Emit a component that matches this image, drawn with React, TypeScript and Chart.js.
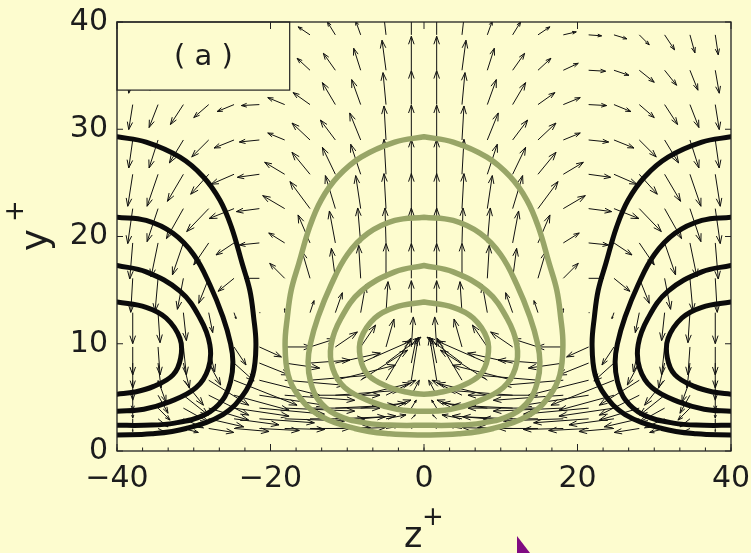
import React, { useEffect, useRef } from 'react';
import { Chart, registerables } from 'chart.js';

Chart.register(...registerables);

// ---------- axes / text ----------
const X_TICKS = [-40, -20, 0, 20, 40];
const Y_TICKS = [0, 10, 20, 30, 40];
const X_MINOR_STEP = 10 / 3;
const PANEL_LABEL = '( a )';
const X_TITLE = 'z';
const Y_TITLE = 'y';
const TITLE_SUP = '+';

// ---------- contour levels (half shapes: [distance from streak centre z+, y+]) ----------
const LEVEL_A = [[0, 29.3], [3.8, 28.8], [8.2, 27.4], [11.2, 25.6], [13.4, 23.4], [14.9, 20.9], [16.3, 17.5], [17.3, 15], [17.8, 12.5], [18.1, 9.9], [17.7, 7.1], [16.4, 5.2], [13.8, 3.4], [9.0, 2.1], [4.5, 1.6], [0, 1.5]];
const LEVEL_B = [[0, 21.8], [3.8, 21.5], [7.3, 20.3], [10, 18.3], [12.1, 15.5], [13.8, 12.5], [14.8, 10], [15.1, 8.3], [14.8, 6.5], [13.8, 4.8], [11.5, 3.4], [7.5, 2.6], [3.5, 2.4], [0, 2.4]];
const LEVEL_C = [[0, 17.3], [3.8, 16.7], [8.2, 14.9], [10.8, 12.4], [12.1, 9.9], [11.9, 7.7], [10.3, 5.9], [6.9, 4.6], [3.5, 3.9], [0, 3.7]];
const LEVEL_D = [[0, 13.9], [3.8, 13.4], [6.4, 12.4], [8.2, 10.5], [8.3, 8.7], [7.3, 7.1], [4.7, 6.0], [2.3, 5.5], [0, 5.3]];
const LEVELS = [LEVEL_A, LEVEL_B, LEVEL_C, LEVEL_D];
const HIGH_STREAK_CENTERS = [0];        // grey-green contours
const LOW_STREAK_CENTERS = [-40, 40];   // black contours (periodic box edges)

// ---------- vector field (right half; left half is the mirror image) ----------
const ARROW_Z = [1.65, 4.95, 8.25, 11.55, 14.85, 18.15, 21.45, 24.75, 28.05, 31.35, 34.65, 37.95];
const ARROW_Y = [38.8, 35.5, 32.3, 29.0, 25.8, 22.6, 19.4, 16.1, 12.9, 9.7, 8.2, 6.6, 5.2, 4.0, 3.0, 2.1];
const ARROW_W = [
  [0, 0.39, 0.65, 1.04, 1.56, 1.69, 1.69, 1.69, 1.30, 1.30, 0.65, 0.39],
  [0, 0.52, 0.91, 1.56, 1.69, 1.95, 2.21, 1.95, 1.95, 1.56, 1.04, 0.52],
  [0, 0.39, 1.17, 1.69, 2.21, 2.21, 2.35, 2.21, 1.95, 1.69, 1.17, 0.52],
  [0, 0.26, 1.43, 1.95, 2.35, 2.21, 2.61, 2.61, 2.21, 1.82, 1.17, 0.52],
  [0, 0.26, 1.30, 1.69, 2.35, 2.61, 2.87, 3.00, 2.35, 2.08, 1.43, 0.65],
  [0, 0.26, 0.65, 1.30, 2.61, 2.87, 3.00, 3.26, 2.87, 2.21, 1.43, 0.65],
  [0, 0.13, 0.39, 0.78, 1.56, 2.08, 2.61, 2.35, 1.95, 1.43, 0.91, 0.39],
  [0, 0, 0.26, 0.52, 1.04, 1.95, 1.95, 2.08, 1.30, 0.78, 0.39, 0.26],
  [0, -0.26, -0.65, -0.91, -0.52, 0, -0.13, -0.26, -0.52, -0.39, -0.26, 0],
  [-0.26, -1.04, -1.95, -2.87, -3.26, -3.52, -2.87, -1.56, -0.78, -0.39, -0.26, 0],
  [-0.65, -4.56, -6.52, -5.86, -5.21, -4.56, -3.91, -2.61, -1.56, -0.78, -0.39, 0],
  [-0.91, -3.26, -6.12, -7.82, -7.82, -7.82, -7.82, -8.21, -5.21, -2.61, -1.04, 0],
  [-1.04, -3.91, -6.52, -8.47, -9.12, -9.12, -8.47, -7.17, -5.21, -3.26, -1.30, 0],
  [-0.65, -3.26, -5.86, -7.82, -9.12, -9.12, -8.47, -7.17, -5.21, -3.26, -1.56, 0],
  [-0.52, -2.61, -4.56, -6.52, -7.17, -7.82, -7.17, -5.86, -4.56, -2.61, -1.30, 0],
  [-0.39, -1.56, -3.26, -4.56, -5.21, -5.21, -5.21, -4.56, -3.26, -1.95, -1.04, 0],
];
const ARROW_V = [
  [3.08, 2.42, 1.30, 1.21, 0.75, 0.28, -0.09, -0.37, -0.93, -1.40, -1.68, -1.86],
  [3.17, 2.80, 2.05, 1.58, 1.12, 0.65, -0.09, -0.47, -1.12, -1.40, -1.86, -2.14],
  [3.17, 2.98, 2.33, 2.05, 1.12, 0.65, -0.09, -0.65, -1.21, -1.86, -2.14, -2.33],
  [3.26, 3.17, 2.52, 1.86, 1.58, 0.65, -0.19, -0.75, -1.58, -2.14, -2.61, -2.61],
  [3.26, 3.26, 2.80, 2.52, 2.05, 1.12, -0.28, -0.93, -1.86, -2.52, -2.98, -2.98],
  [3.26, 3.26, 3.08, 3.08, 2.52, 1.21, -0.28, -0.93, -2.14, -2.80, -3.08, -3.26],
  [3.26, 3.26, 3.26, 2.98, 2.61, 0.93, -0.19, -1.12, -2.05, -2.98, -3.17, -3.36],
  [3.26, 3.26, 3.08, 2.80, 2.52, 1.40, 0, -1.21, -2.33, -2.89, -3.08, -3.17],
  [2.98, 2.89, 2.61, 1.86, 1.12, 0.37, 0, -0.56, -1.86, -2.61, -2.80, -2.89],
  [2.80, 2.61, 2.05, 1.40, 0.75, 0, -0.93, -1.68, -2.33, -2.61, -2.61, -2.61],
  [2.33, 2.42, 2.05, 0.93, 0.28, -0.47, -1.12, -1.68, -2.05, -2.33, -2.33, -2.33],
  [4.01, 3.92, 2.80, 1.40, 0.47, -0.47, -1.40, -2.33, -2.33, -2.33, -2.05, -1.86],
  [1.40, 1.40, 1.12, 0.47, 0, -0.47, -0.93, -1.40, -1.86, -1.86, -1.68, -1.40],
  [0.75, 0.75, 0.47, 0.28, 0, -0.28, -0.56, -0.75, -1.12, -1.30, -1.12, -0.93],
  [0.37, 0.37, 0.28, 0.19, 0, -0.19, -0.37, -0.56, -0.75, -0.84, -0.75, -0.56],
  [0.19, 0.19, 0.09, 0.09, 0, -0.09, -0.19, -0.28, -0.37, -0.37, -0.37, -0.28],
];

// ---------- styles ----------
const BG = 'rgb(253,252,207)';
const GREEN = 'rgb(152,165,103)';
const BLACK = '#0b0b0b';
const TEXT = '#1c1c1c';
const FONT = "'DejaVu Sans', 'Liberation Sans', Arial, sans-serif";

function fmt(v: number) {
  return v < 0 ? '\u2212' + Math.abs(v) : String(v);
}

function loop(level: number[][], c: number) {
  const right = level.map(([d, y]) => ({ x: c + d, y }));
  const left = level.slice(0, -1).reverse().map(([d, y]) => ({ x: c - d, y }));
  return right.concat(left);
}

function edgeHalf(level: number[][], c: number) {
  const s = c < 0 ? 1 : -1;
  return level.map(([d, y]) => ({ x: c + s * d, y }));
}

const quiverPlugin = {
  id: 'quiver',
  beforeDatasetsDraw(chart: any) {
    const { ctx, chartArea: a } = chart;
    const xs = chart.scales.x;
    const ys = chart.scales.y;
    ctx.save();
    ctx.beginPath();
    ctx.rect(a.left, a.top, a.right - a.left, a.bottom - a.top);
    ctx.clip();
    ctx.strokeStyle = '#111';
    ctx.lineWidth = 1;
    ctx.beginPath();
    for (let r = 0; r < ARROW_Y.length; r++) {
      for (let c = 0; c < ARROW_Z.length; c++) {
        for (const s of [1, -1]) {
          const z0 = s * ARROW_Z[c];
          const y0 = ARROW_Y[r];
          const z1 = z0 + s * ARROW_W[r][c];
          const y1 = y0 + ARROW_V[r][c];
          const px0 = xs.getPixelForValue(z0);
          const py0 = ys.getPixelForValue(y0);
          const px1 = xs.getPixelForValue(z1);
          const py1 = ys.getPixelForValue(y1);
          const dx = px1 - px0;
          const dy = py1 - py0;
          const len = Math.hypot(dx, dy);
          if (len < 1) {
            ctx.moveTo(px0, py0);
            ctx.lineTo(px0 + 1, py0);
            continue;
          }
          ctx.moveTo(px0, py0);
          ctx.lineTo(px1, py1);
          const hl = Math.min(0.3 * len, 8);
          const ux = dx / len;
          const uy = dy / len;
          const bx = px1 - ux * hl;
          const by = py1 - uy * hl;
          const hw = hl * 0.35;
          ctx.moveTo(bx - uy * hw, by + ux * hw);
          ctx.lineTo(px1, py1);
          ctx.lineTo(bx + uy * hw, by - ux * hw);
        }
      }
    }
    ctx.stroke();
    ctx.restore();
  },
};

const decorPlugin = {
  id: 'decor',
  afterDraw(chart: any) {
    const { ctx, chartArea: a } = chart;
    const xs = chart.scales.x;
    const ys = chart.scales.y;
    ctx.save();
    // panel label box
    const bx0 = xs.getPixelForValue(-40);
    const bx1 = xs.getPixelForValue(-17.5);
    const by0 = ys.getPixelForValue(40);
    const by1 = ys.getPixelForValue(33.65);
    ctx.fillStyle = BG;
    ctx.fillRect(bx0, by0, bx1 - bx0, by1 - by0);
    ctx.strokeStyle = '#222';
    ctx.lineWidth = 1.2;
    ctx.strokeRect(bx0, by0, bx1 - bx0, by1 - by0);
    ctx.fillStyle = TEXT;
    ctx.font = `29px ${FONT}`;
    ctx.textAlign = 'center';
    ctx.textBaseline = 'alphabetic';
    ctx.fillText(PANEL_LABEL, (bx0 + bx1) / 2, by0 + 43);

    // frame
    ctx.strokeStyle = '#222';
    ctx.lineWidth = 1.3;
    ctx.strokeRect(a.left, a.top, a.right - a.left, a.bottom - a.top);
    ctx.beginPath();
    ctx.lineWidth = 1;
    for (const v of X_TICKS) {
      const px = xs.getPixelForValue(v);
      ctx.moveTo(px, a.bottom);
      ctx.lineTo(px, a.bottom - 7);
      ctx.moveTo(px, a.top);
      ctx.lineTo(px, a.top + 7);
    }
    for (let v = -40; v <= 40.001; v += X_MINOR_STEP) {
      const px = xs.getPixelForValue(v);
      ctx.moveTo(px, a.bottom);
      ctx.lineTo(px, a.bottom - 3.5);
    }
    for (const v of Y_TICKS) {
      const py = ys.getPixelForValue(v);
      ctx.moveTo(a.left, py);
      ctx.lineTo(a.left + 6, py);
      ctx.moveTo(a.right, py);
      ctx.lineTo(a.right - 6, py);
    }
    ctx.stroke();

    // axis titles
    ctx.fillStyle = TEXT;
    ctx.textAlign = 'left';
    ctx.textBaseline = 'alphabetic';
    ctx.font = `35px ${FONT}`;
    ctx.fillText(X_TITLE, 404, 547);
    ctx.font = `26px ${FONT}`;
    ctx.textAlign = 'center';
    ctx.textBaseline = 'middle';
    ctx.fillText(TITLE_SUP, 433, 518);

    ctx.save();
    ctx.translate(47, 251);
    ctx.rotate(-Math.PI / 2);
    ctx.textAlign = 'left';
    ctx.textBaseline = 'alphabetic';
    ctx.font = `37px ${FONT}`;
    ctx.fillText(Y_TITLE, 0, 0);
    ctx.font = `26px ${FONT}`;
    ctx.textAlign = 'center';
    ctx.textBaseline = 'middle';
    ctx.fillText(TITLE_SUP, 40, -31);
    ctx.restore();

    // pointer mark
    ctx.fillStyle = 'rgb(128,10,130)';
    ctx.beginPath();
    ctx.moveTo(517, 536);
    ctx.lineTo(517, 553);
    ctx.lineTo(530, 553);
    ctx.closePath();
    ctx.fill();
    ctx.restore();
  },
};

export default function App() {
  const ref = useRef<HTMLCanvasElement>(null);
  useEffect(() => {
    document.body.style.margin = '0';
    document.body.style.background = BG;
    const datasets: any[] = [];
    for (const lvl of LEVELS) {
      for (const c of HIGH_STREAK_CENTERS) {
        datasets.push({ data: loop(lvl, c), borderColor: GREEN, borderWidth: 5.5 });
      }
      for (const c of LOW_STREAK_CENTERS) {
        datasets.push({ data: edgeHalf(lvl, c), borderColor: BLACK, borderWidth: 5 });
      }
    }
    for (const d of datasets) {
      Object.assign(d, { showLine: true, pointRadius: 0, pointHoverRadius: 0, tension: 0.4, fill: false, borderCapStyle: 'round', borderJoinStyle: 'round' });
    }
    const tickFont = { family: FONT, size: 30 };
    const chart = new Chart(ref.current!, {
      type: 'scatter',
      data: { datasets },
      options: {
        responsive: false,
        animation: false,
        devicePixelRatio: 1,
        events: [],
        layout: { padding: { top: 22, right: 20, left: 0, bottom: 0 } },
        plugins: { legend: { display: false }, tooltip: { enabled: false } },
        scales: {
          x: {
            type: 'linear', min: -40, max: 40,
            ticks: { stepSize: 20, font: tickFont, color: TEXT, padding: 10, maxRotation: 0, autoSkip: false, callback: (v: any) => fmt(Number(v)) },
            grid: { display: false, drawTicks: false },
            border: { display: false },
            afterFit: (s: any) => { s.height = 102; s.paddingLeft = 0; s.paddingRight = 0; },
          },
          y: {
            type: 'linear', min: 0, max: 40,
            ticks: { stepSize: 10, font: tickFont, color: TEXT, padding: 9, autoSkip: false, callback: (v: any) => fmt(Number(v)) },
            grid: { display: false, drawTicks: false },
            border: { display: false },
            afterFit: (s: any) => { s.width = 117; s.paddingTop = 0; s.paddingBottom = 0; },
          },
        },
      } as any,
      plugins: [quiverPlugin, decorPlugin],
    });
    return () => chart.destroy();
  }, []);
  return (
    <div style={{ position: 'absolute', left: 0, top: 0, width: 751, height: 553, background: BG }}>
      <canvas ref={ref} width={751} height={553} style={{ display: 'block' }} />
    </div>
  );
}
